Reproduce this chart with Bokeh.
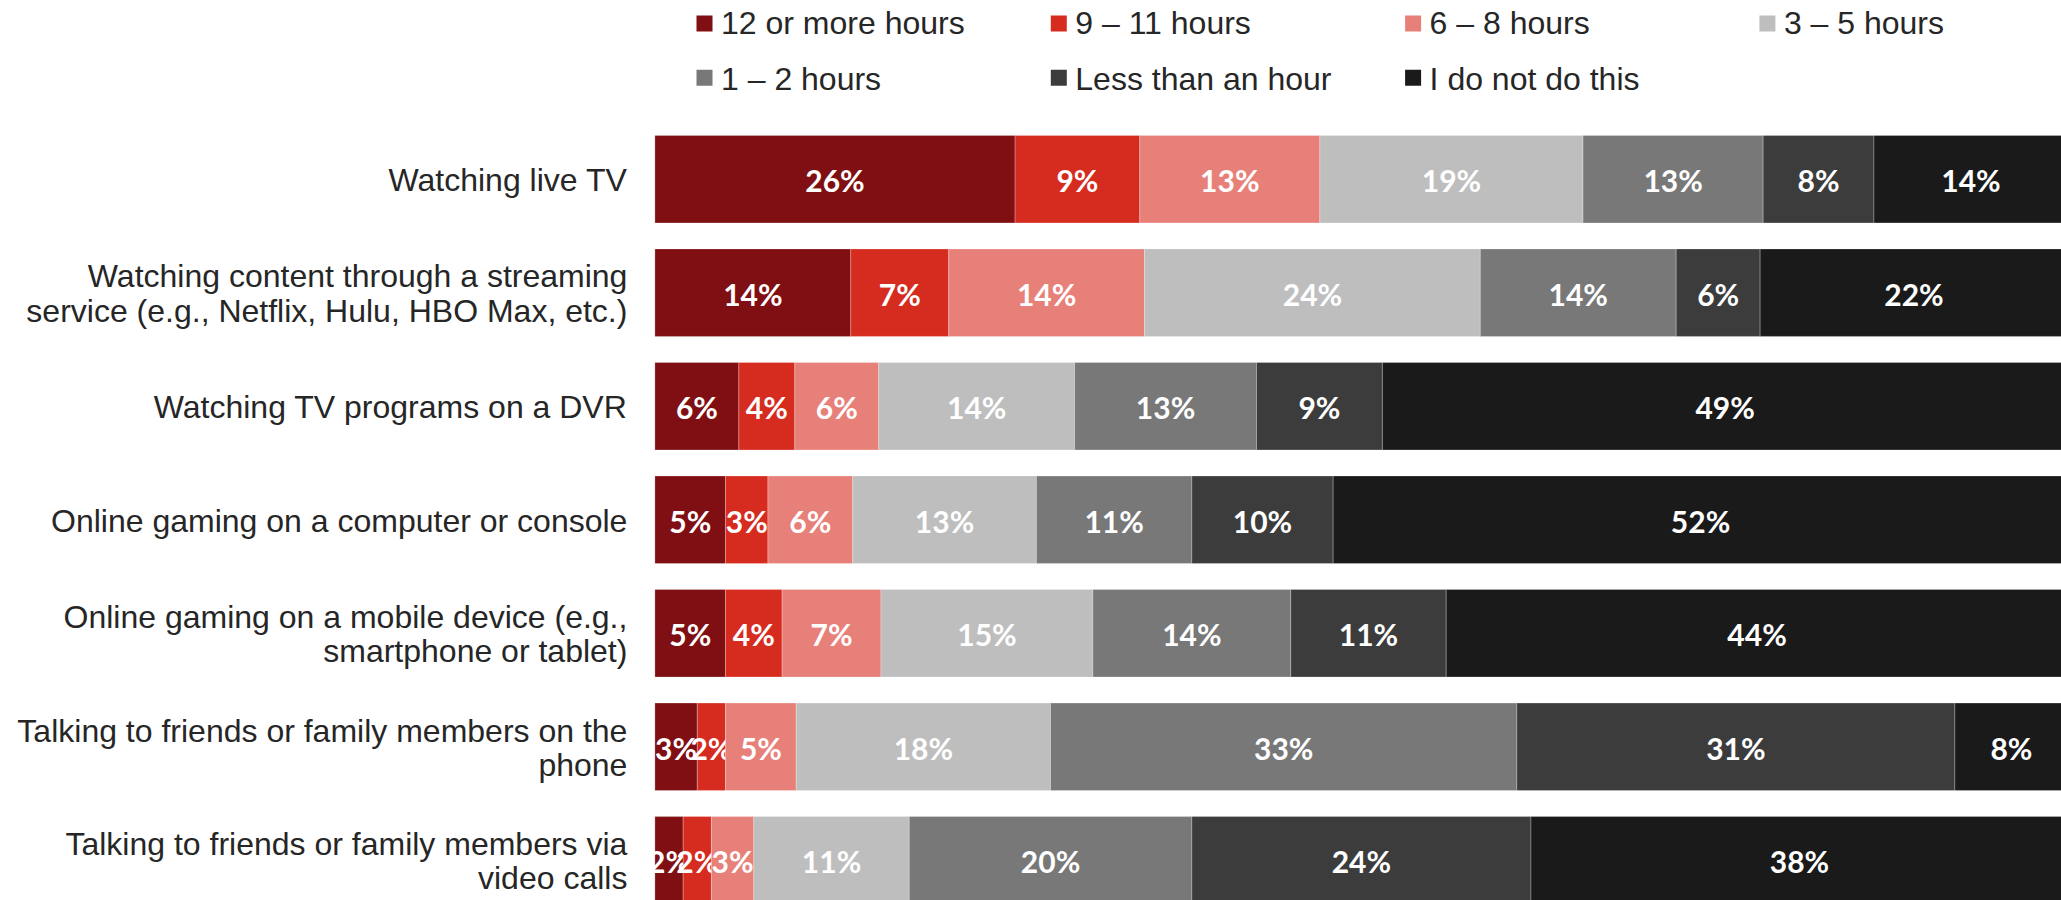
from bokeh.plotting import figure
from bokeh.models import Range1d, ColumnDataSource
from bokeh.core.properties import value
from bokeh.embed import file_html
from bokeh.resources import INLINE

# ---------------- data ----------------
categories = [
    "Watching live TV",
    "Watching content through a streaming\nservice (e.g., Netflix, Hulu, HBO Max, etc.)",
    "Watching TV programs on a DVR",
    "Online gaming on a computer or console",
    "Online gaming on a mobile device (e.g.,\nsmartphone or tablet)",
    "Talking to friends or family members on the\nphone",
    "Talking to friends or family members via\nvideo calls",
]
series_names = ["12 or more hours", "9 \u2013 11 hours", "6 \u2013 8 hours", "3 \u2013 5 hours",
                "1 \u2013 2 hours", "Less than an hour", "I do not do this"]
colors = ["#7F0F12", "#D62B1F", "#E8807A", "#BEBEBE", "#787878", "#3C3C3C", "#1A1A1A"]

h12_plus = [26, 14, 6, 5, 5, 3, 2]
h9_11 = [9, 7, 4, 3, 4, 2, 2]
h6_8 = [13, 14, 6, 6, 7, 5, 3]
h3_5 = [19, 24, 14, 13, 15, 18, 11]
h1_2 = [13, 14, 13, 11, 14, 33, 20]
less_than_hour = [8, 6, 9, 10, 11, 31, 24]
do_not_do = [14, 22, 49, 52, 44, 8, 38]
series = [h12_plus, h9_11, h6_8, h3_5, h1_2, less_than_hour, do_not_do]

# ---------------- layout constants ----------------
ORIGIN_X, ORIGIN_Y = 0, 0   # figure's top-left corner on the page
W, H = 2061, 900
PX_PER_PCT = 14.13        # horizontal pixels per percent
ROW_PITCH = 113.53        # vertical pixels per row
BAR_LEFT_PAGE = 654.4
ROW0_CENTER_PAGE = 178.65
TEXT_DY = -10.5           # baseline correction for rendered text

x_start = (ORIGIN_X - BAR_LEFT_PAGE) / PX_PER_PCT
x_end = (ORIGIN_X + W - BAR_LEFT_PAGE) / PX_PER_PCT
y_top = (ORIGIN_Y - ROW0_CENTER_PAGE) / ROW_PITCH
y_bottom = (ORIGIN_Y + H - ROW0_CENTER_PAGE) / ROW_PITCH


def dx(px):
    return px / PX_PER_PCT


def dy(px):
    return px / ROW_PITCH


def page_x(px):
    return (px - BAR_LEFT_PAGE) / PX_PER_PCT


def page_y(py):
    return (py - ROW0_CENTER_PAGE) / ROW_PITCH


p = figure(width=W, height=H, output_backend="svg", toolbar_location=None,
           x_range=Range1d(x_start, x_end), y_range=Range1d(y_bottom, y_top),
           min_border=0, min_border_left=0, min_border_right=0,
           min_border_top=0, min_border_bottom=0)
p.axis.visible = False
p.grid.visible = False
p.outline_line_color = None
p.background_fill_color = "white"
p.border_fill_color = "white"

rows = list(range(len(categories)))
totals = [sum(s[i] for s in series) for i in rows]

left = [0.0] * len(rows)
for k, s in enumerate(series):
    widths = [s[i] / totals[i] * 100 for i in rows]
    right = [left[i] + widths[i] for i in rows]
    src = ColumnDataSource(dict(
        y=rows, left=left, right=right,
        mid=[(left[i] + right[i]) / 2 for i in rows],
        ty=[r + dy(11.5 + TEXT_DY) for r in rows],
        label=[f"{v}%" for v in s],
    ))
    p.hbar(y="y", left="left", right="right", height=dy(87.5), source=src,
           fill_color=colors[k], line_color="white", line_alpha=0.25, line_width=1)
    p.text(x="mid", y="ty", text="label", source=src,
           text_font=value("Lato"), text_font_style="bold", text_font_size="30px",
           text_color="white", text_align="center", text_baseline="alphabetic")
    left = right

# category labels (right aligned left of the bars)
lab_x, lab_y, lab_t = [], [], []
for r, cat in enumerate(categories):
    lines = cat.split("\n")
    n = len(lines)
    for j, ln in enumerate(lines):
        cap_mid = (j - (n - 1) / 2) * 34.4
        lab_x.append(-dx(27.5))
        lab_y.append(r + dy(cap_mid + 11.4 + TEXT_DY))
        lab_t.append(ln)
p.text(x=lab_x, y=lab_y, text=lab_t, text_font=value("Liberation Sans"),
       text_font_size="32px", text_color="#262626", text_align="right",
       text_baseline="alphabetic")

# legend (4 columns x 2 rows)
leg_cols = 4
col_left0, col_pitch = 696.0, 354.3
row_marker_y = [23.0, 77.3]
row_text_base = [33.3, 89.0]
mx, my, mc, tx, ty, tt = [], [], [], [], [], []
for k, name in enumerate(series_names):
    rr, cc = divmod(k, leg_cols)
    lx = col_left0 + cc * col_pitch
    mx.append(page_x(lx + 8))
    my.append(page_y(row_marker_y[rr]))
    mc.append(colors[k])
    tx.append(page_x(lx + 24.5))
    ty.append(page_y(row_text_base[rr] + TEXT_DY))
    tt.append(name)
p.scatter(x=mx, y=my, marker="square", size=16, fill_color=mc, line_color=None)
p.text(x=tx, y=ty, text=tt, text_font=value("Liberation Sans"),
       text_font_size="32px", text_color="#262626", text_align="left",
       text_baseline="alphabetic")

open("out.html", "w").write(file_html(p, INLINE))
